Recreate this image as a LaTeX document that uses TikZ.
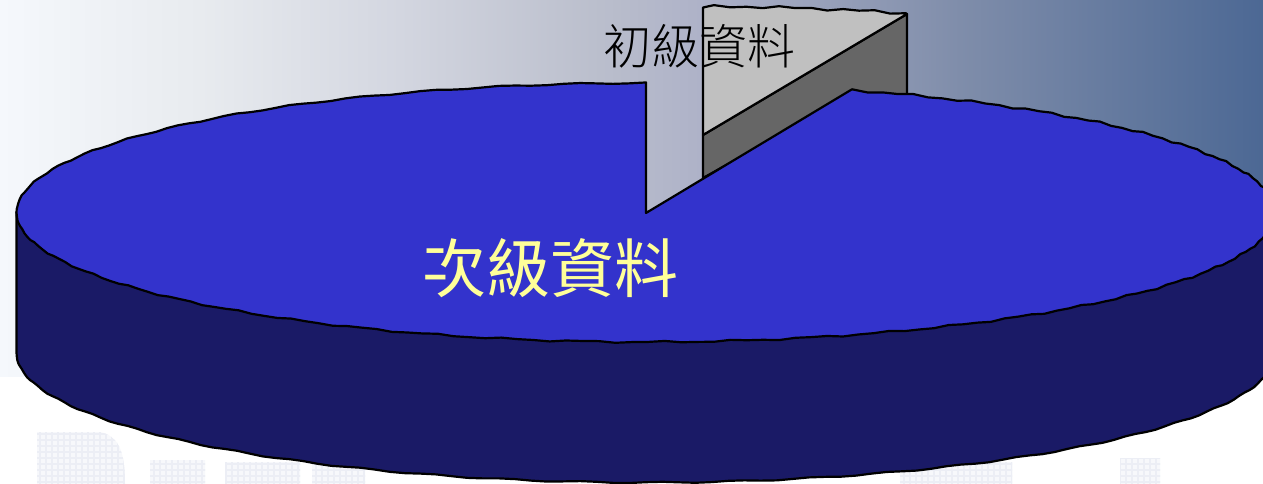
\documentclass[tikz,border=0pt]{standalone}
\usepackage{fontspec}
\newfontfamily\cjkfont{Noto Sans CJK TC}
\newfontfamily\cjklight{Noto Sans CJK TC Light}
\definecolor{bgA}{HTML}{F5F8FC}
\definecolor{bgB}{HTML}{E8EBEF}
\definecolor{bgC}{HTML}{D3D6E0}
\definecolor{bgG}{HTML}{BABECC}
\definecolor{bgD}{HTML}{AEB2C8}
\definecolor{bgE}{HTML}{7F8DAA}
\definecolor{bgF}{HTML}{4C6894}
\definecolor{topblue}{HTML}{3333CC}
\definecolor{sideblue}{HTML}{1A1A66}
\definecolor{slicetop}{HTML}{C0C0C0}
\definecolor{sliceside}{HTML}{666666}
\definecolor{labelyellow}{HTML}{FFFF99}
\definecolor{markpale}{HTML}{F7F8FB}
\definecolor{markgrid}{HTML}{ECEEF5}
\tikzset{
  outline/.style={draw=black,line width=2.2pt,line join=round},
  markgridstyle/.style={draw=markgrid,line width=1.6pt},
}
\begin{document}
\begin{tikzpicture}[x=1pt,y=-1pt,
  declare function={
    wob(\t)=0.8*sin(mod(\t,3)*120)+0.7*sin(mod(\t,7)*360/7);
    ex(\t)=646+629.5*cos(\t);
    ey(\t)=212.5-129.5*sin(\t)+wob(\t);
  }]
\useasboundingbox (0,0) rectangle (1263,484);
\clip (0,0) rectangle (1263,484);
% background band
\fill[white] (0,0) rectangle (1263,484);
\shade[left color=bgA,right color=bgB] (0,0) rectangle (200.5,376);
\shade[left color=bgB,right color=bgC] (200,0) rectangle (400.5,376);
\shade[left color=bgC,right color=bgG] (400,0) rectangle (600.5,376);
\shade[left color=bgG,right color=bgD] (600,0) rectangle (700.5,376);
\shade[left color=bgD,right color=bgE] (700,0) rectangle (960.5,376);
\shade[left color=bgE,right color=bgF] (960,0) rectangle (1263,376);
% pale watermark shapes
\begin{scope}
  \clip (37,432) -- (100,432) .. controls (118,436) and (125,450) .. (125,484) -- (37,484) -- cycle
        (150,460) rectangle (205,484)
        (225,462) rectangle (300,484)
        (312,462) rectangle (365,484)
        (900,462) rectangle (1012,484)
        (1120,458) rectangle (1160,484);
  \fill[markpale] (0,420) rectangle (1263,484);
  \foreach \gx in {40,46,...,1160} \draw[markgridstyle] (\gx,425) -- (\gx,484);
  \foreach \gy in {434,440,...,484} \draw[markgridstyle] (30,\gy) -- (1170,\gy);
\end{scope}
% pulled-out slice
\draw[outline,fill=sliceside] (703,135) -- (907,14) -- (907,100) -- (852,95) -- (703,178) -- cycle;
\draw[outline,fill=slicetop] (703,135) -- (703,7.5)
  -- plot[domain=89:71.2,samples=13,variable=\t] ({57+ex(\t)},{-76.5+ey(\t)})
  -- (907,14) -- cycle;
% side of the main body
\draw[outline,fill=sideblue] (16.5,212)
  -- (16.5,353)
  -- plot[domain=180:360,samples=121,variable=\t] ({ex(\t)},{140.5+ey(\t)})
  -- (1275.5,212) -- cycle;
% top of the main body
\draw[outline,fill=topblue] (646,213) -- (646,84)
  -- plot[domain=90:430.9,samples=228,variable=\t] ({ex(\t)},{ey(\t)})
  -- cycle;
% labels
\node[text=black,inner sep=0pt,font=\cjklight\fontsize{48}{48}\selectfont] (primary) at (699,46) {初級資料};
\node[text=labelyellow,inner sep=0pt,font=\cjkfont\fontsize{64}{64}\selectfont] (secondary) at (550,268) {次級資料};
\end{tikzpicture}
\end{document}
